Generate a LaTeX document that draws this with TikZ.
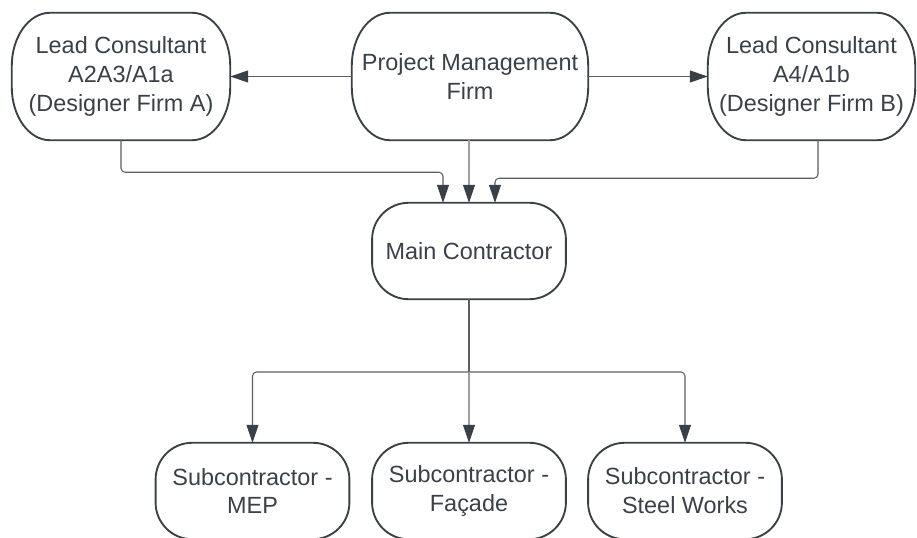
\documentclass[tikz,border=0pt]{standalone}
\usepackage{fontspec}
\setmainfont{Liberation Sans}
\definecolor{uququq}{rgb}{0.23,0.25,0.28}
\definecolor{wvwvwv}{rgb}{0.36,0.37,0.40}
\definecolor{zzzzzz}{rgb}{0.62,0.62,0.64}
\usetikzlibrary{arrows.meta}

\begin{document}
\begin{tikzpicture}[x=0.03cm,y=-0.03cm,
  box/.style={align=center,inner sep=0pt,minimum height=3.81cm,text=uququq,
    font=\fontsize{20}{24.7}\selectfont},
  smallbox/.style={box,minimum height=2.88cm,minimum width=5.8cm},
  outline/.style={draw=uququq,line width=1.6pt},
  conn/.style={draw=wvwvwv,line width=0.9pt,rounded corners=0.12cm,
    -{Triangle[length=0.54cm,width=0.36cm,color=uququq]}},
  pale/.style={conn,draw=zzzzzz}]
\useasboundingbox (0,0) rectangle (917,538);
% top row
\node[box,minimum width=6.54cm] (leada) at (121,76.5) {Lead Consultant\\A2A3/A1a\\(Designer Firm A)};
\node[box,minimum width=7.08cm] (pmf) at (470,76.5) {Project Management\\Firm};
\node[box,minimum width=6.21cm] (leadb) at (811.5,76.5) {Lead Consultant\\A4/A1b\\(Designer Firm B)};
% middle
\node[smallbox] (main) at (469,251) {Main Contractor};
% bottom row
\node[smallbox] (mep) at (252.5,491) {Subcontractor -\\MEP};
\node[smallbox] (facade) at (469,491) {Subcontractor -\\Façade};
\node[smallbox] (steel) at (685,491) {Subcontractor -\\Steel Works};
\coordinate (split) at (469,372);

% outlines with oval corners
\foreach \n/\rx/\ry in {leada/1.15cm/1.6cm,pmf/1.15cm/1.6cm,leadb/1.15cm/1.6cm,
    main/1.1cm/1.1cm,mep/1.1cm/1.1cm,facade/1.1cm/1.1cm,steel/1.1cm/1.1cm}
  \draw[outline] ([xshift=\rx]\n.north west) -- ([xshift=-\rx]\n.north east)
    arc[start angle=90,end angle=0,x radius=\rx,y radius=\ry]
    -- ([yshift=\ry]\n.south east)
    arc[start angle=0,end angle=-90,x radius=\rx,y radius=\ry]
    -- ([xshift=\rx]\n.south west)
    arc[start angle=-90,end angle=-180,x radius=\rx,y radius=\ry]
    -- ([yshift=-\ry]\n.north west)
    arc[start angle=180,end angle=90,x radius=\rx,y radius=\ry] -- cycle;

\draw[conn] (pmf.west) -- (leada.east);
\draw[conn] (pmf.east) -- (leadb.west);
\draw[conn] (leada.south) -- ++(0,32) -| ([xshift=-0.78cm]main.north);
\draw[pale] (pmf.south -| main.north) -- (main.north);
\draw[conn] (leadb.south -| 818,0) -- ++(0,38) -| ([xshift=0.78cm]main.north);

\draw[conn,-] (main.south) -- (split);
\draw[conn] (split) -| (mep.north);
\draw[conn] (split) -| (steel.north);
\draw[pale] (split) -- (facade.north);

\end{tikzpicture}
\end{document}
